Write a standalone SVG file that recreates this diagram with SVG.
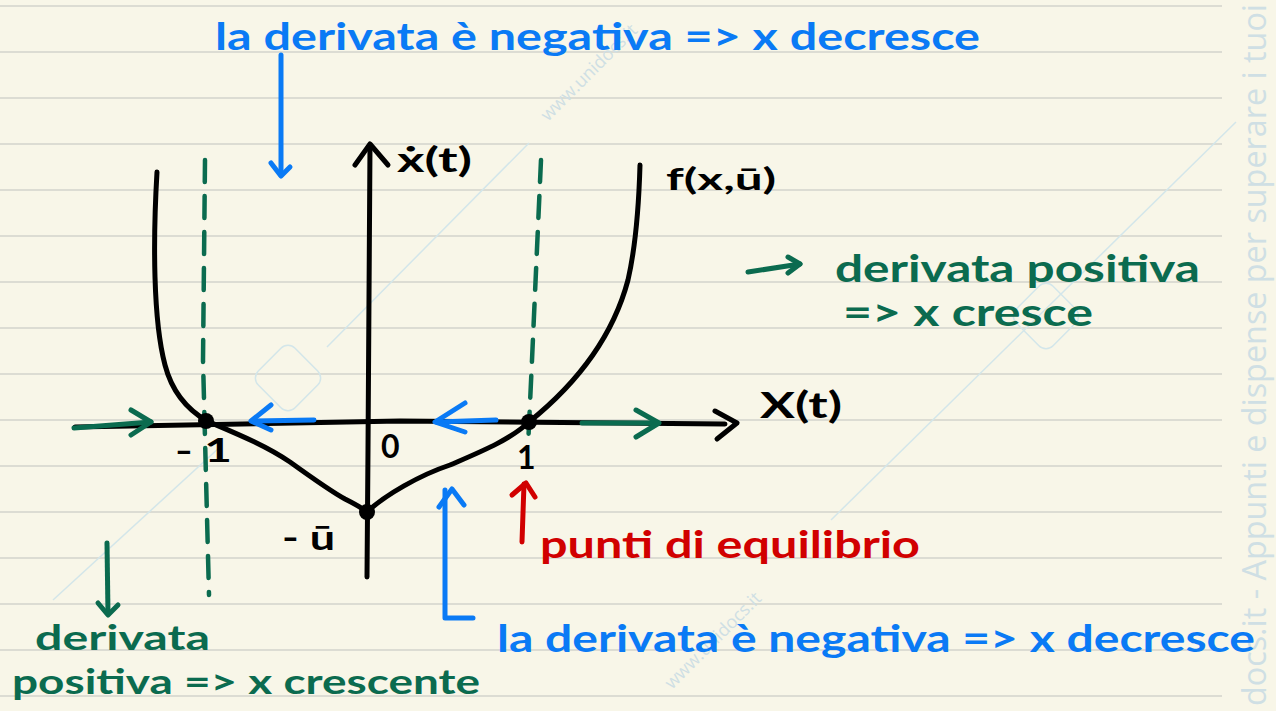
<svg xmlns="http://www.w3.org/2000/svg" width="1276" height="711" viewBox="0 0 1276 711">
<defs>
<style>
.paper{stroke:#dcdcd3;stroke-width:2}
.ink{fill:none;stroke-linecap:round;stroke-linejoin:round}
.k{stroke:#000;stroke-width:5}
.b{stroke:#0a7af5;stroke-width:5}
.g{stroke:#0b6b4f;stroke-width:5}
.r{stroke:#d10000;stroke-width:5}
.dash{stroke:#0b6b4f;stroke-width:4.5;stroke-dasharray:22 14;fill:none;stroke-linecap:round}
.t{font-family:Lato,"Noto Sans","Liberation Sans",sans-serif;font-weight:700}
.tb{fill:#0a7af5}
.tg{fill:#0b6b4f}
.tr{fill:#d10000}
.tk{fill:#000}
.wm{fill:none;stroke:#d3e6ea;stroke-width:1.5}
.wmt{font-family:"Open Sans","Liberation Sans",sans-serif;fill:#cfdfe4}
</style>
</defs>
<rect width="1276" height="711" fill="#f8f6e8"/>
<g id="paper">
<line class="paper" x1="0" y1="6" x2="1222" y2="6"/>
<line class="paper" x1="0" y1="52" x2="1222" y2="52"/>
<line class="paper" x1="0" y1="98" x2="1222" y2="98"/>
<line class="paper" x1="0" y1="144" x2="1222" y2="144"/>
<line class="paper" x1="0" y1="190" x2="1222" y2="190"/>
<line class="paper" x1="0" y1="236" x2="1222" y2="236"/>
<line class="paper" x1="0" y1="282" x2="1222" y2="282"/>
<line class="paper" x1="0" y1="328" x2="1222" y2="328"/>
<line class="paper" x1="0" y1="374" x2="1222" y2="374"/>
<line class="paper" x1="0" y1="420" x2="1222" y2="420"/>
<line class="paper" x1="0" y1="466" x2="1222" y2="466"/>
<line class="paper" x1="0" y1="512" x2="1222" y2="512"/>
<line class="paper" x1="0" y1="558" x2="1222" y2="558"/>
<line class="paper" x1="0" y1="604" x2="1222" y2="604"/>
<line class="paper" x1="0" y1="650" x2="1222" y2="650"/>
<line class="paper" x1="0" y1="696" x2="1222" y2="696"/>
</g>
<g id="watermark">
<line class="wm" x1="327" y1="347" x2="529" y2="143"/>
<line class="wm" x1="1236" y1="122" x2="831" y2="520"/>
<line class="wm" x1="220" y1="447" x2="53" y2="600"/>
<rect class="wm" x="262" y="352" width="52" height="52" rx="10" transform="rotate(45 288 378)"/>
<rect class="wm" x="1020" y="290" width="52" height="52" rx="10" transform="rotate(45 1046 316)"/>
<text class="wmt" x="548" y="122" font-size="18" transform="rotate(-45 548 122)">www.unidocs.it</text>
<text class="wmt" x="672" y="690" font-size="18" transform="rotate(-45 672 690)">www.unidocs.it</text>
<text class="wmt" x="1266" y="706" font-size="32" transform="rotate(-90 1266 706)" textLength="702" lengthAdjust="spacingAndGlyphs">docs.it - Appunti e dispense per superare i tuoi</text>
</g>
<g id="guides">
<path class="dash" d="M205,160 L203,360 L209,595"/>
<path class="dash" d="M541,160 L532,360 L528,447"/>
</g>
<g id="axes">
<path class="ink k" d="M75,427 L400,421 L725,424"/>
<path class="ink k" d="M715,411 L737,423 L717,439"/>
<path class="ink k" d="M367,577 L368,450 L370,145"/>
<path class="ink k" d="M355,165 L370,144 L388,165"/>
</g>
<g id="curve">
<path class="ink k" d="M157,172 C153,240 153,320 165,365 C172,392 188,410 207,421 C235,433 265,445 290,462 C315,480 332,492 345,499 C355,504 362,508 367,512 C385,495 420,475 450,465 C480,452 510,440 529,422 C575,385 612,340 628,280 C636,245 639,200 640,165"/>
</g>
<g id="points">
<circle cx="206" cy="421" r="8" fill="#000"/>
<circle cx="529" cy="422" r="8" fill="#000"/>
<circle cx="367" cy="512" r="8" fill="#000"/>
</g>
<g id="connectors">
<path class="ink g" d="M74,428 L151,422"/>
<path class="ink g" d="M131,410 L151,422 L131,435"/>
<path class="ink g" d="M582,423 L658,423"/>
<path class="ink g" d="M636,410 L659,423 L636,437"/>
<path class="ink b" d="M314,420 L252,421"/>
<path class="ink b" d="M271,405 L251,421 L271,430"/>
<path class="ink b" d="M496,420 L436,422"/>
<path class="ink b" d="M465,403 L435,422 L465,432"/>
<path class="ink b" d="M281,55 L281,175"/>
<path class="ink b" d="M271,163 L281,176 L290,167"/>
<path class="ink b" d="M445,618 L445,490 M445,618 L473,618"/>
<path class="ink b" d="M439,507 L452,489 L464,505"/>
<path class="ink r" d="M522,542 L524,484"/>
<path class="ink r" d="M512,495 L526,483 L535,497"/>
<path class="ink g" d="M107,543 L108,614"/>
<path class="ink g" d="M98,603 L108,615 L118,605"/>
<path class="ink g" d="M748,272 L800,264"/>
<path class="ink g" d="M788,257 L800,264 L788,273"/>
</g>
<g id="labels">
<text class="t tk" x="397" y="172" font-size="34" textLength="75" lengthAdjust="spacingAndGlyphs">ẋ(t)</text>
<text class="t tk" x="666" y="190" font-size="30" textLength="110" lengthAdjust="spacingAndGlyphs">f(x,ū)</text>
<text class="t tk" x="760" y="418" font-size="36" textLength="82" lengthAdjust="spacingAndGlyphs">X(t)</text>
<text class="t tk" x="175" y="462" font-size="32" textLength="57" lengthAdjust="spacingAndGlyphs">- 1</text>
<text class="t tk" x="381" y="458" font-size="32">0</text>
<text class="t tk" x="517" y="469" font-size="32">1</text>
<text class="t tk" x="282" y="550" font-size="34" textLength="53" lengthAdjust="spacingAndGlyphs">- ū</text>
</g>
<g id="note-top">
<text class="t tb" x="215" y="50" font-size="38" textLength="765" lengthAdjust="spacingAndGlyphs">la derivata è negativa =&gt; x decresce</text>
</g>
<g id="note-bottom">
<text class="t tb" x="497" y="652" font-size="38" textLength="758" lengthAdjust="spacingAndGlyphs">la derivata è negativa =&gt; x decresce</text>
</g>
<g id="note-equilibrio">
<text class="t tr" x="540" y="558" font-size="38" textLength="380" lengthAdjust="spacingAndGlyphs">punti di equilibrio</text>
</g>
<g id="note-right">
<text class="t tg" x="835" y="282" font-size="38" textLength="365" lengthAdjust="spacingAndGlyphs">derivata positiva</text>
<text class="t tg" x="843" y="326" font-size="38" textLength="250" lengthAdjust="spacingAndGlyphs">=&gt; x cresce</text>
</g>
<g id="note-left">
<text class="t tg" x="35" y="650" font-size="34" textLength="175" lengthAdjust="spacingAndGlyphs">derivata</text>
<text class="t tg" x="12" y="694" font-size="34" textLength="468" lengthAdjust="spacingAndGlyphs">positiva =&gt; x crescente</text>
</g>
</svg>
